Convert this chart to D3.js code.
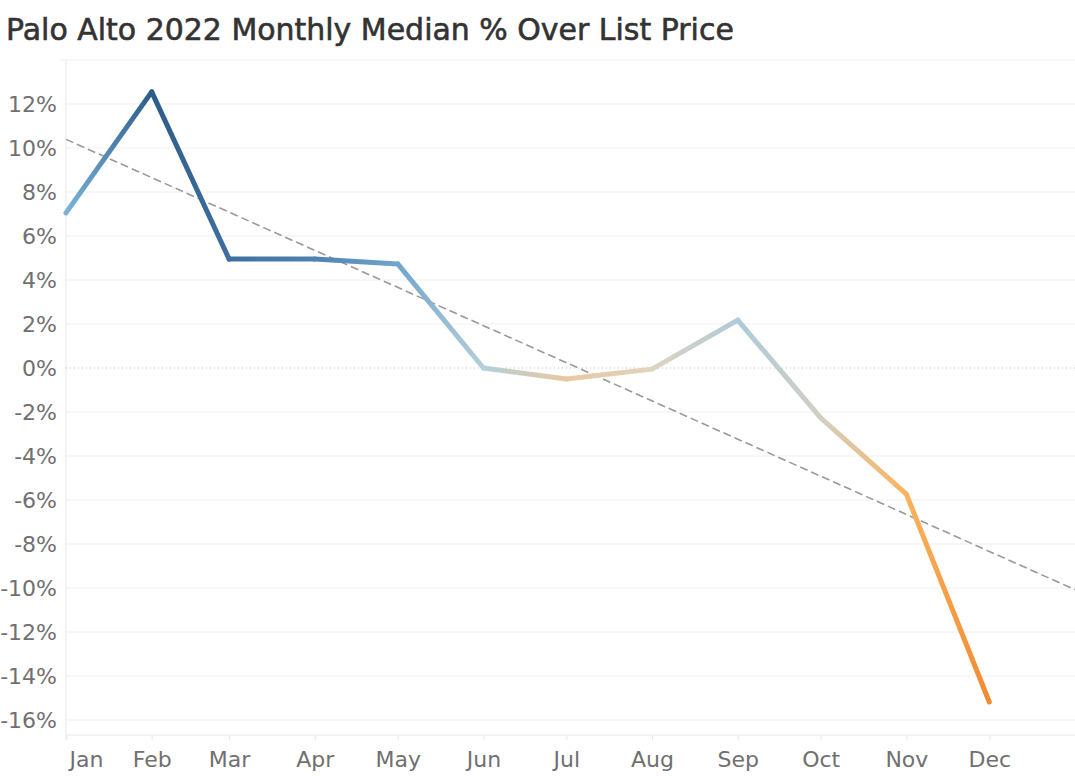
<!DOCTYPE html>
<html>
<head>
<meta charset="utf-8">
<script src="https://cdn.jsdelivr.net/npm/d3@7"></script>
<style>
  body { margin: 0; background: #fff; }
  text { font-family: "DejaVu Sans", sans-serif; }
</style>
</head>
<body>
<svg id="chart"></svg>
<script>
const months = ['Jan', 'Feb', 'Mar', 'Apr', 'May', 'Jun', 'Jul', 'Aug', 'Sep', 'Oct', 'Nov', 'Dec'];
const overList = [7.05, 12.55, 4.95, 4.95, 4.73, 0.0, -0.5, -0.05, 2.18, -2.27, -5.73, -15.18];
const yTicks = [12, 10, 8, 6, 4, 2, 0, -2, -4, -6, -8, -10, -12, -14, -16];
// colour of the line at each month
const pointColors = ['#7ab3d8', '#2c5d8a', '#3f6f9e', '#4f82b0', '#72a6cc', '#b4cfda',
  '#e8c8a0', '#e0d3bf', '#adcbd8', '#d2d0c4', '#fbb35e', '#f28a30'];

const width = 1075;
const height = 776;
const margin = { top: 60, right: 0, bottom: 41, left: 66 };

const data = months.map((m, i) => ({ month: m, date: new Date(2022, i, 1), value: overList[i] }));

const svg = d3.select('#chart')
  .attr('width', width)
  .attr('height', height);

const x = d3.scaleTime()
  .domain([new Date(2022, 0, 1), new Date(2023, 0, 1)])
  .range([margin.left, width - margin.right]);

const y = d3.scaleLinear()
  .domain([-16.68, 14])
  .range([height - margin.bottom, margin.top]);

const title = svg.append('text')
  .attr('x', 6)
  .attr('y', 40)
  .attr('fill', '#333')
  .attr('stroke', '#333')
  .attr('stroke-width', 0.6)
  .style('font-size', '27px')
  .text('Palo Alto 2022 Monthly Median % Over List Price');

// fit title to the width it has in the original
const tw = title.node().getComputedTextLength();
title.style('font-size', (27 * 728 / tw) + 'px');

// grid
svg.append('g')
  .selectAll('line')
  .data(yTicks.filter(d => d !== 0))
  .enter().append('line')
  .attr('x1', margin.left)
  .attr('x2', width)
  .attr('y1', d => y(d))
  .attr('y2', d => y(d))
  .attr('stroke', '#efefef');

// frame lines
svg.append('line')
  .attr('x1', margin.left - 6).attr('x2', width)
  .attr('y1', margin.top).attr('y2', margin.top)
  .attr('stroke', '#efefef');
svg.append('line')
  .attr('x1', margin.left).attr('x2', width)
  .attr('y1', height - margin.bottom).attr('y2', height - margin.bottom)
  .attr('stroke', '#e8e8e8');
svg.append('line')
  .attr('x1', margin.left).attr('x2', margin.left)
  .attr('y1', margin.top).attr('y2', height - margin.bottom + 5)
  .attr('stroke', '#e8e8e8');

// zero line
svg.append('line')
  .attr('x1', margin.left).attr('x2', width)
  .attr('y1', y(0)).attr('y2', y(0))
  .attr('stroke', '#bbb')
  .attr('stroke-dasharray', '1,3');

// y axis
const yAxis = d3.axisLeft(y)
  .tickValues(yTicks)
  .tickSize(0)
  .tickPadding(9)
  .tickFormat(d => d + '%');

svg.append('g')
  .attr('transform', `translate(${margin.left},0)`)
  .call(yAxis)
  .call(g => g.select('.domain').remove())
  .call(g => g.selectAll('text')
    .attr('fill', '#707070')
    .style('font-size', '22px')
    .attr('dy', '0.36em'));

// x axis
const xAxis = d3.axisBottom(x)
  .tickValues(data.map(d => d.date))
  .tickSize(5)
  .tickPadding(11)
  .tickFormat(d3.timeFormat('%b'));

svg.append('g')
  .attr('transform', `translate(0,${height - margin.bottom})`)
  .call(xAxis)
  .call(g => g.select('.domain').remove())
  .call(g => g.selectAll('line').attr('stroke', '#e8e8e8'))
  .call(g => g.selectAll('text')
    .attr('fill', '#707070')
    .style('font-size', '22px'))
  .call(g => g.select('.tick:first-of-type text')
    .attr('text-anchor', 'start')
    .attr('x', 3));

// trend line (least squares on date)
const xs = data.map(d => +d.date);
const ys = data.map(d => d.value);
const mx = d3.mean(xs);
const my = d3.mean(ys);
const slope = d3.sum(xs, (v, i) => (v - mx) * (ys[i] - my)) / d3.sum(xs, v => (v - mx) ** 2);
const trend = dt => my + slope * (+dt - mx);
const [d0, d1] = x.domain();

svg.append('line')
  .attr('x1', x(d0)).attr('y1', y(trend(d0)))
  .attr('x2', x(d1)).attr('y2', y(trend(d1)))
  .attr('stroke', '#999')
  .attr('stroke-width', 1.6)
  .attr('stroke-dasharray', '8,4');

// gradient line segments
const defs = svg.append('defs');
const segments = data.slice(1).map((d, i) => ({ a: data[i], b: d, i }));

segments.forEach(s => {
  const grad = defs.append('linearGradient')
    .attr('id', 'seg' + s.i)
    .attr('gradientUnits', 'userSpaceOnUse')
    .attr('x1', x(s.a.date)).attr('y1', y(s.a.value))
    .attr('x2', x(s.b.date)).attr('y2', y(s.b.value));
  grad.append('stop').attr('offset', 0).attr('stop-color', pointColors[s.i]);
  grad.append('stop').attr('offset', 1).attr('stop-color', pointColors[s.i + 1]);
});

svg.append('g')
  .selectAll('line')
  .data(segments)
  .enter().append('line')
  .attr('x1', d => x(d.a.date))
  .attr('y1', d => y(d.a.value))
  .attr('x2', d => x(d.b.date))
  .attr('y2', d => y(d.b.value))
  .attr('stroke', d => `url(#seg${d.i})`)
  .attr('stroke-width', 5)
  .attr('stroke-linecap', 'round');
</script>
</body>
</html>
